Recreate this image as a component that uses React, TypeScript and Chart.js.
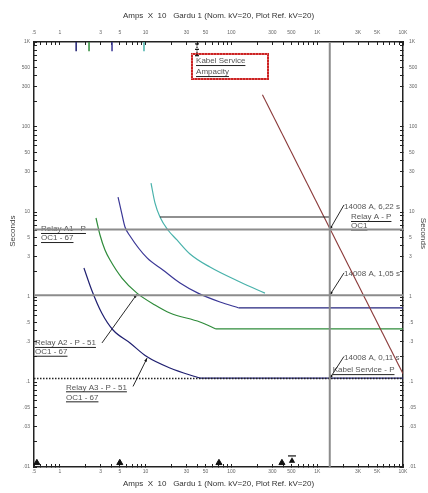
import React, { useEffect, useRef } from 'react';
import { Chart, registerables } from 'chart.js';

Chart.register(...registerables);

const FONT = '"Liberation Sans", Arial, Helvetica, sans-serif';

// Axis ranges and tick labels
const X_MIN = 0.5;
const X_MAX = 10000;
const Y_MIN = 0.01;
const Y_MAX = 1000;
const X_TICK_VALUES = [0.5, 1, 3, 5, 10, 30, 50, 100, 300, 500, 1000, 3000, 5000, 10000];
const X_TICK_LABELS = ['.5', '1', '3', '5', '10', '30', '50', '100', '300', '500', '1K', '3K', '5K', '10K'];
const Y_TICK_VALUES = [0.01, 0.03, 0.05, 0.1, 0.3, 0.5, 1, 3, 5, 10, 30, 50, 100, 300, 500, 1000];
const Y_TICK_LABELS = ['.01', '.03', '.05', '.1', '.3', '.5', '1', '3', '5', '10', '30', '50', '100', '300', '500', '1K'];

const X_TITLE = 'Amps  X  10   Gardu 1 (Nom. kV=20, Plot Ref. kV=20)';
const Y_TITLE = 'Seconds';

// Relay curves [amps x10, seconds]
const RELAY_A_CURVE: [number, number][] = [
  [11.56, 21.9], [12.85, 12.8], [14.7, 8.73], [18.2, 6.14], [23.2, 4.69],
  [32.9, 3.21], [56.2, 2.25], [126, 1.5], [246, 1.11],
];
const RELAY_A_DT: [number, number][] = [[14.7, 8.73], [1400.8, 8.73]];
const RELAY_A1_CURVE: [number, number][] = [
  [4.77, 15.0], [5.26, 9.72], [5.75, 6.67], [6.58, 5.22], [10.4, 2.88],
  [15.9, 2.08], [25.2, 1.46], [40.8, 1.11], [73.6, 0.873], [122, 0.743],
];
const RELAY_A1_DT: [number, number][] = [[122, 0.743], [10000, 0.743]];
const RELAY_A2_CURVE: [number, number][] = [
  [2.64, 8.5], [2.94, 5.36], [3.36, 3.57], [3.85, 2.72], [5.3, 1.67],
  [7.93, 1.11], [12.85, 0.805], [19.2, 0.648], [43, 0.508], [66, 0.421],
];
const RELAY_A2_DT: [number, number][] = [[66, 0.421], [10000, 0.421]];
const RELAY_A3_CURVE: [number, number][] = [
  [1.91, 2.19], [2.35, 1.21], [3.08, 0.648], [4.17, 0.409], [6.58, 0.288],
  [10.3, 0.199], [19.2, 0.146], [43, 0.111],
];
const RELAY_A3_DT: [number, number][] = [[43, 0.111], [10000, 0.111]];
const KABEL_DAMAGE: [number, number][] = [[230, 240], [10000, 0.125]];

// Fault current & operating times
const FAULT_CURRENT = 1400.8;
const FAULT_TIMES = [6.22, 1.05];
const KABEL_TIME = 0.11;

// Small pick-up markers on top axis
const TOP_MARK_X = [1.55, 2.19, 4.06, 9.57];
const TOP_MARK_COLORS = ['#1f1f70', '#2e8b3a', '#3a3796', '#49b2ab'];
const TOP_MARK_Y: [number, number] = [1000, 780];
const KABEL_MARK: [number, number][] = [[39.7, 950], [39.7, 820], [39.7, 690]];
const BOTTOM_MARK: [number, number][] = [[0.54, 0.0112], [5.0, 0.0112], [71.6, 0.0112], [388, 0.0112]];
const BOTTOM_ICON: [number, number][] = [[508, 0.0135], [508, 0.0118]];

// Text annotations [x, y] in data units
const TEXT_LABELS: { text: string; x: number; y: number; underline: boolean }[] = [
  { text: 'Relay A1 - P', x: 0.604, y: 6.31, underline: true },
  { text: 'OC1 - 67', x: 0.604, y: 4.94, underline: true },
  { text: 'Relay A2 - P - 51', x: 0.514, y: 0.288, underline: true },
  { text: 'OC1 - 67', x: 0.514, y: 0.227, underline: true },
  { text: 'Relay A3 - P - 51', x: 1.18, y: 0.0866, underline: true },
  { text: 'OC1 - 67', x: 1.18, y: 0.066, underline: true },
  { text: '14008 A, 6,22 s', x: 2052, y: 11.5, underline: false },
  { text: 'Relay A - P', x: 2476, y: 8.73, underline: true },
  { text: 'OC1', x: 2476, y: 6.94, underline: true },
  { text: '14008 A, 1,05 s', x: 2052, y: 1.87, underline: false },
  { text: '14008 A, 0,11 s', x: 2052, y: 0.195, underline: false },
  { text: 'Kabel Service - P', x: 1515, y: 0.138, underline: true },
  { text: 'Kabel Service', x: 38.7, y: 597, underline: true },
  { text: 'Ampacity', x: 38.7, y: 443, underline: true },
];
const LEADERS: { from: [number, number]; to: [number, number] }[] = [
  { from: [3.1, 0.288], to: [7.93, 1.08] },
  { from: [7.13, 0.0887], to: [10.4, 0.191] },
  { from: [2052, 12.1], to: [1400.8, 6.22] },
  { from: [2052, 1.92], to: [1400.8, 1.05] },
  { from: [2052, 0.2], to: [1400.8, 0.11] },
];
const KABEL_BOX: [[number, number], [number, number]] = [[34.7, 723], [267, 367]];

function logTicks(min: number, max: number) {
  const out: { value: number }[] = [];
  for (let e = Math.floor(Math.log10(min)); e <= Math.ceil(Math.log10(max)); e++) {
    for (let m = 1; m < 10; m++) {
      const v = +(m * Math.pow(10, e)).toPrecision(6);
      if (v >= min * 0.9999 && v <= max * 1.0001) out.push({ value: v });
    }
  }
  return out;
}

const fmt = (values: number[], labels: string[]) => (v: any) => {
  const n = Number(v);
  const i = values.findIndex((t) => Math.abs(t - n) / t < 1e-6);
  return i >= 0 ? labels[i] : '';
};

const pts = (a: [number, number][]) => a.map(([x, y]) => ({ x, y }));

const annotationPlugin = {
  id: 'tccAnnotations',
  beforeDatasetsDraw(chart: any) {
    const { ctx } = chart;
    const xs = chart.scales.x;
    const ys = chart.scales.y;
    const px = (v: number) => xs.getPixelForValue(v);
    const py = (v: number) => ys.getPixelForValue(v);
    ctx.save();
    // Kabel box
    const bx1 = px(KABEL_BOX[0][0]);
    const by1 = py(KABEL_BOX[0][1]);
    const bx2 = px(KABEL_BOX[1][0]);
    const by2 = py(KABEL_BOX[1][1]);
    ctx.strokeStyle = '#cc2020';
    ctx.lineWidth = 2;
    ctx.strokeRect(bx1, by1, bx2 - bx1, by2 - by1);
    ctx.strokeStyle = '#ffffff';
    ctx.lineWidth = 0.6;
    ctx.setLineDash([1, 2]);
    ctx.strokeRect(bx1, by1, bx2 - bx1, by2 - by1);
    ctx.setLineDash([]);
    // texts
    ctx.font = `8px ${FONT}`;
    ctx.textBaseline = 'middle';
    ctx.textAlign = 'left';
    for (const l of TEXT_LABELS) {
      const X = px(l.x);
      const Y = py(l.y);
      ctx.fillStyle = '#555';
      ctx.fillText(l.text, X, Y);
      if (l.underline) {
        const w = ctx.measureText(l.text).width;
        ctx.strokeStyle = '#222';
        ctx.lineWidth = 1;
        ctx.beginPath();
        ctx.moveTo(X, Y + 4.5);
        ctx.lineTo(X + w, Y + 4.5);
        ctx.stroke();
      }
    }
    // leaders
    ctx.strokeStyle = '#111';
    ctx.fillStyle = '#111';
    ctx.lineWidth = 0.9;
    for (const ld of LEADERS) {
      const x1 = px(ld.from[0]);
      const y1 = py(ld.from[1]);
      const x2 = px(ld.to[0]);
      const y2 = py(ld.to[1]);
      ctx.beginPath();
      ctx.moveTo(x1, y1);
      ctx.lineTo(x2, y2);
      ctx.stroke();
      const ang = Math.atan2(y2 - y1, x2 - x1);
      ctx.beginPath();
      ctx.moveTo(x2, y2);
      ctx.lineTo(x2 - 4 * Math.cos(ang - 0.35), y2 - 4 * Math.sin(ang - 0.35));
      ctx.lineTo(x2 - 4 * Math.cos(ang + 0.35), y2 - 4 * Math.sin(ang + 0.35));
      ctx.closePath();
      ctx.fill();
    }
    ctx.restore();
  },
};

const xScale = (position: 'top' | 'bottom') => ({
  type: 'logarithmic',
  position,
  min: X_MIN,
  max: X_MAX,
  afterBuildTicks: (s: any) => {
    s.ticks = logTicks(X_MIN, X_MAX);
  },
  afterFit: (s: any) => {
    s.height = position === 'top' ? 42 : 26;
  },
  ticks: {
    autoSkip: false,
    maxRotation: 0,
    minRotation: 0,
    padding: position === 'top' ? 9 : 4.5,
    font: { size: 5, family: FONT },
    color: '#666',
    callback: fmt(X_TICK_VALUES, X_TICK_LABELS),
  },
  grid: { drawOnChartArea: false, drawTicks: true, tickLength: -3, color: '#222', lineWidth: 1 },
  border: { display: true, color: '#222', width: 1.5 },
  title: {
    display: true,
    text: X_TITLE,
    font: { size: 8, family: FONT },
    color: '#333',
    padding: position === 'top' ? { top: 11, bottom: 0 } : { top: 0, bottom: 4 },
  },
});

const yScale = (position: 'left' | 'right') => ({
  type: 'logarithmic',
  position,
  min: Y_MIN,
  max: Y_MAX,
  afterBuildTicks: (s: any) => {
    s.ticks = logTicks(Y_MIN, Y_MAX);
  },
  afterFit: (s: any) => {
    s.width = position === 'left' ? 34 : 25;
  },
  ticks: {
    autoSkip: false,
    padding: position === 'left' ? 7 : 9,
    font: { size: 5, family: FONT },
    color: '#666',
    callback: fmt(Y_TICK_VALUES, Y_TICK_LABELS),
  },
  grid: { drawOnChartArea: false, drawTicks: true, tickLength: -3, color: '#222', lineWidth: 1 },
  border: { display: true, color: '#222', width: 1.5 },
  title: {
    display: true,
    text: position === 'left' ? ' '.repeat(21) + Y_TITLE : Y_TITLE + ' '.repeat(19),
    font: { size: 8, family: FONT },
    color: '#444',
    padding: position === 'left' ? { top: 8, bottom: 0 } : { top: 0, bottom: 0 },
  },
});

const line = (data: [number, number][], color: string, width = 1.2, extra: any = {}) => ({
  data: pts(data),
  showLine: true,
  borderColor: color,
  backgroundColor: color,
  borderWidth: width,
  pointRadius: 0,
  fill: false,
  xAxisID: 'x',
  yAxisID: 'y',
  ...extra,
});

export default function App() {
  const ref = useRef<HTMLCanvasElement>(null);
  useEffect(() => {
    const canvas = ref.current;
    if (!canvas) return;
    const GRAY = '#8c8c8c';
    const datasets: any[] = [
      line([[FAULT_CURRENT, Y_MIN], [FAULT_CURRENT, Y_MAX]], GRAY, 2),
      line([[X_MIN, FAULT_TIMES[0]], [X_MAX, FAULT_TIMES[0]]], GRAY, 2),
      line([[X_MIN, FAULT_TIMES[1]], [X_MAX, FAULT_TIMES[1]]], GRAY, 2),
      line([[X_MIN, KABEL_TIME], [X_MAX, KABEL_TIME]], '#222', 1.5, { borderDash: [1.5, 1.5] }),
      line(RELAY_A_DT, '#222', 1.2),
      line(KABEL_DAMAGE, '#8b3a3a', 1.1),
      line(RELAY_A_CURVE, '#49b2ab', 1.2, { cubicInterpolationMode: 'monotone' }),
      line(RELAY_A1_CURVE, '#3a3796', 1.2, { cubicInterpolationMode: 'monotone' }),
      line(RELAY_A1_DT, '#24247e', 1.2),
      line(RELAY_A2_CURVE, '#2e8b3a', 1.2, { cubicInterpolationMode: 'monotone' }),
      line(RELAY_A2_DT, '#2e8b3a', 1.2),
      line(RELAY_A3_CURVE, '#1f1f70', 1.2, { cubicInterpolationMode: 'monotone' }),
      line(RELAY_A3_DT, '#1f1f70', 1.2),
      ...TOP_MARK_X.map((x, i) =>
        line([[x, TOP_MARK_Y[0]], [x, TOP_MARK_Y[1]]], TOP_MARK_COLORS[i], 1.5)
      ),
      line(KABEL_MARK, '#111', 1.2, { borderDash: [1.5, 1], pointStyle: 'line', pointRadius: 2, pointBorderWidth: 1.2 }),
      {
        data: pts(BOTTOM_MARK),
        showLine: false,
        pointStyle: 'triangle',
        pointRadius: 3.5,
        backgroundColor: '#111',
        borderColor: '#111',
        borderWidth: 1,
        clip: false,
        xAxisID: 'x',
        yAxisID: 'y',
      },
      {
        data: pts(BOTTOM_ICON),
        showLine: false,
        pointStyle: ['line', 'triangle'],
        pointRadius: [4, 2.5],
        backgroundColor: '#111',
        borderColor: '#111',
        borderWidth: 1.2,
        clip: false,
        xAxisID: 'x',
        yAxisID: 'y',
      },
    ];
    const chart = new Chart(canvas, {
      type: 'scatter',
      data: { datasets },
      options: {
        animation: false,
        responsive: false,
        devicePixelRatio: 1,
        events: [],
        layout: { padding: 0 },
        plugins: { legend: { display: false }, tooltip: { enabled: false } },
        elements: { line: { tension: 0 } },
        scales: {
          x: xScale('bottom'),
          x2: xScale('top'),
          y: yScale('left'),
          y2: yScale('right'),
        } as any,
      },
      plugins: [annotationPlugin],
    } as any);
    return () => chart.destroy();
  }, []);
  return (
    <div style={{ position: 'absolute', left: 0, top: 0, width: 428, height: 493, background: '#fff' }}>
      <canvas ref={ref} width={428} height={493} style={{ display: 'block', width: 428, height: 493 }} />
    </div>
  );
}
